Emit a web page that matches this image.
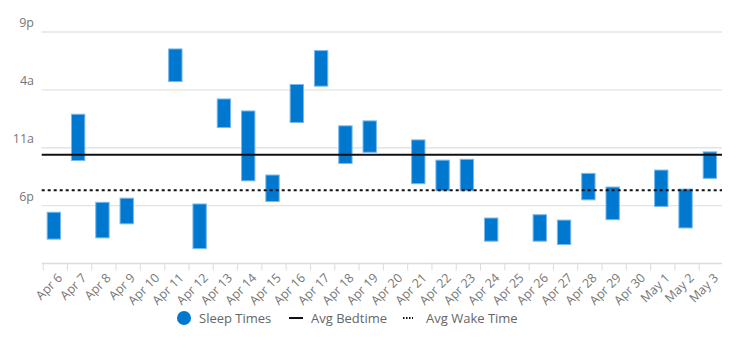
<!DOCTYPE html>
<html>
<head>
<meta charset="utf-8">
<script src="https://cdn.jsdelivr.net/npm/d3@7"></script>
<style>
  body { margin: 0; background: #fff; }
  text { font-family: "Open Sans", sans-serif; }
</style>
</head>
<body>
<div id="chart"></div>
<script>
//chart size
let svgWidth = 738;
let svgHeight = 348;

//plot area edges
let plot = { left: 41.7, right: 722, top: 32, bottom: 263.5 };

//days on the x axis
let days = ["Apr 6", "Apr 7", "Apr 8", "Apr 9", "Apr 10", "Apr 11", "Apr 12",
  "Apr 13", "Apr 14", "Apr 15", "Apr 16", "Apr 17", "Apr 18", "Apr 19",
  "Apr 20", "Apr 21", "Apr 22", "Apr 23", "Apr 24", "Apr 25", "Apr 26",
  "Apr 27", "Apr 28", "Apr 29", "Apr 30", "May 1", "May 2", "May 3"];

//sleep start / end, in hours counted from 9p (null = no record)
let sleepStart = [21.8, 9.95, 20.6, 20.1, null, 2.05, 20.8, 8.1, 9.55, 17.3,
  6.35, 2.25, 11.35, 10.75, null, 13.05, 15.5, 15.4, 22.5, null, 22.1, 22.75,
  17.1, 18.75, null, 16.7, 19.0, 14.5];
let sleepEnd = [25.05, 15.55, 24.9, 23.2, null, 6.0, 26.2, 11.55, 18.0, 20.5,
  10.95, 6.55, 15.9, 14.55, null, 18.35, 19.2, 19.2, 25.3, null, 25.3, 25.7,
  20.3, 22.7, null, 21.1, 23.7, 17.7];

//averages, same hour units
let avgBedtime = 14.85;
let avgWakeTime = 19.15;

//y axis ticks
let yTickValues = [0, 7, 14, 21];
let yTickLabels = ["9p", "4a", "11a", "6p"];

let svg = d3
  .select("#chart")
  .append("svg")
  .attr("width", svgWidth)
  .attr("height", svgHeight);

let xScale = d3
  .scaleBand()
  .domain(days)
  .range([plot.left, plot.right])
  .paddingInner(0.45)
  .paddingOuter(0.225);

let yScale = d3
  .scaleLinear()
  .domain([0, 28])
  .range([plot.top, plot.bottom]);

/********************************************/
//horizontal grid lines + y labels
svg
  .append("g")
  .selectAll("line")
  .data(yTickValues)
  .enter()
  .append("line")
  .attr("x1", plot.left)
  .attr("x2", plot.right)
  .attr("y1", (d) => yScale(d))
  .attr("y2", (d) => yScale(d))
  .attr("stroke", "#e4e4e4")
  .attr("stroke-width", 1.3);

svg
  .append("g")
  .selectAll("text")
  .data(yTickValues)
  .enter()
  .append("text")
  .attr("x", 34)
  .attr("y", (d) => yScale(d) - 9)
  .attr("dy", "0.35em")
  .attr("text-anchor", "end")
  .attr("fill", "#777")
  .attr("font-size", "12.5px")
  .text((d, i) => yTickLabels[i]);

/********************************************/
//x axis line, ticks at band edges, rotated labels
let xAxisGroup = svg.append("g");

xAxisGroup
  .append("line")
  .attr("x1", plot.left)
  .attr("x2", plot.right)
  .attr("y1", plot.bottom)
  .attr("y2", plot.bottom)
  .attr("stroke", "#dcdcdc")
  .attr("stroke-width", 1.3);

xAxisGroup
  .selectAll(".tick")
  .data(days)
  .enter()
  .append("line")
  .attr("class", "tick")
  .attr("x1", (d) => xScale(d) - xScale.step() * 0.225 + 1.5)
  .attr("x2", (d) => xScale(d) - xScale.step() * 0.225 + 1.5)
  .attr("y1", plot.bottom)
  .attr("y2", plot.bottom + 7)
  .attr("stroke", "#dcdcdc");

xAxisGroup
  .selectAll(".xLabel")
  .data(days)
  .enter()
  .append("text")
  .attr("class", "xLabel")
  .attr("transform", (d) => `translate(${xScale(d) + xScale.bandwidth() / 2 + 3}, ${plot.bottom + 9}) rotate(-45)`)
  .attr("text-anchor", "end")
  .attr("dy", "0.7em")
  .attr("fill", "#777")
  .attr("font-size", "12.5px")
  .text((d) => d);

/********************************************/
//sleep bars
let sleepData = days
  .map((d, i) => ({ day: d, start: sleepStart[i], end: sleepEnd[i] }))
  .filter((d) => d.start !== null);

svg
  .append("g")
  .selectAll("rect")
  .data(sleepData)
  .enter()
  .append("rect")
  .attr("x", (d) => xScale(d.day))
  .attr("width", xScale.bandwidth())
  .attr("y", (d) => yScale(d.start))
  .attr("height", (d) => yScale(d.end) - yScale(d.start))
  .attr("fill", "#0078d0")
  .attr("stroke", "#7ab8ea")
  .attr("stroke-width", 1);

/********************************************/
//average lines
svg
  .append("line")
  .attr("x1", plot.left)
  .attr("x2", plot.right)
  .attr("y1", yScale(avgBedtime))
  .attr("y2", yScale(avgBedtime))
  .attr("stroke", "#111")
  .attr("stroke-width", 2);

svg
  .append("line")
  .attr("x1", plot.left)
  .attr("x2", plot.right)
  .attr("y1", yScale(avgWakeTime))
  .attr("y2", yScale(avgWakeTime))
  .attr("stroke", "#111")
  .attr("stroke-width", 2)
  .attr("stroke-dasharray", "3,3");

/********************************************/
//legend
let legend = svg.append("g").attr("transform", "translate(0, 318)");

legend
  .append("circle")
  .attr("cx", 184)
  .attr("cy", 0)
  .attr("r", 7)
  .attr("fill", "#0078d0");

legend
  .append("line")
  .attr("x1", 289)
  .attr("x2", 303)
  .attr("stroke", "#111")
  .attr("stroke-width", 2);

legend
  .append("line")
  .attr("x1", 403)
  .attr("x2", 413)
  .attr("stroke", "#111")
  .attr("stroke-width", 2)
  .attr("stroke-dasharray", "1.5,1.5");

let legendItems = [
  { x: 199, label: "Sleep Times" },
  { x: 311, label: "Avg Bedtime" },
  { x: 426, label: "Avg Wake Time" },
];

legend
  .selectAll("text")
  .data(legendItems)
  .enter()
  .append("text")
  .attr("x", (d) => d.x)
  .attr("y", 0)
  .attr("dy", "0.35em")
  .attr("fill", "#666")
  .attr("font-size", "13px")
  .text((d) => d.label);
</script>
</body>
</html>
